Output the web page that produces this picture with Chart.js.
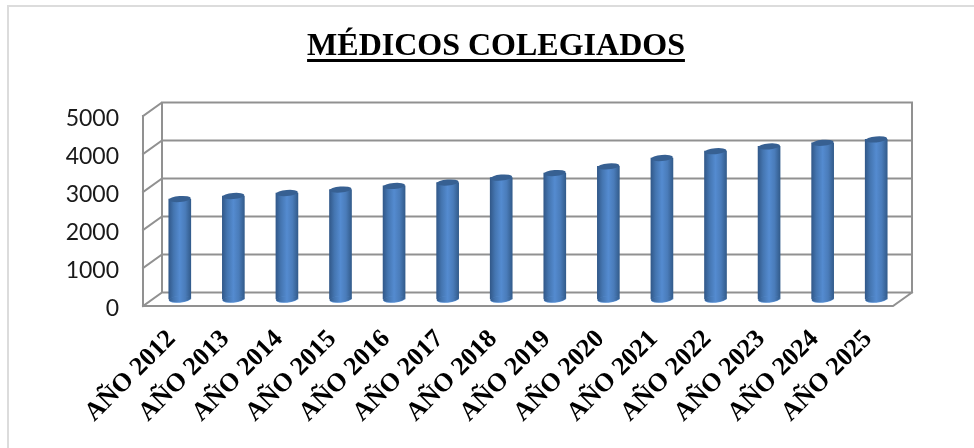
<!DOCTYPE html>
<html>
<head>
<meta charset="utf-8">
<title>Médicos colegiados</title>
<script src="https://cdn.jsdelivr.net/npm/chart.js@4"></script>
<style>
  html, body { margin: 0; padding: 0; background: #fff; }
  #wrap { position: relative; width: 974px; height: 448px; overflow: hidden; }
  #frame { position: absolute; left: 7px; top: 5px; width: 980px; height: 460px; border: 2px solid #dcdcdc; box-sizing: border-box; }
  canvas { position: absolute; left: 0; top: 0; }
</style>
</head>
<body>
<div id="wrap">
  <div id="frame"></div>
  <canvas id="chart" width="974" height="448"></canvas>
</div>
<script>
const categories = ["AÑO 2012", "AÑO 2013", "AÑO 2014", "AÑO 2015", "AÑO 2016", "AÑO 2017", "AÑO 2018",
  "AÑO 2019", "AÑO 2020", "AÑO 2021", "AÑO 2022", "AÑO 2023", "AÑO 2024", "AÑO 2025"];
const colegiados = [2630, 2710, 2790, 2880, 2975, 3065, 3195, 3315, 3490, 3710, 3890, 4015, 4110, 4200];
const chartTitle = "MÉDICOS COLEGIADOS";

// fake 3D depth of the box, and how far the bars sit inside it
const depthX = 19, depthY = 13.5;
const barShiftX = 10, barShiftY = 7;
const gridColor = "#919191";

function barGradient(ctx, x, w) {
  const g = ctx.createLinearGradient(x - w / 2, 0, x + w / 2, 0);
  g.addColorStop(0, "#32598a");
  g.addColorStop(0.22, "#4475b0");
  g.addColorStop(0.5, "#548bd0");
  g.addColorStop(0.75, "#4a7cba");
  g.addColorStop(1, "#335c8c");
  return g;
}

const box3d = {
  id: "box3d",
  beforeDatasetsDraw(chart) {
    const { ctx, chartArea: a, scales: { y } } = chart;
    ctx.save();
    ctx.strokeStyle = gridColor;
    ctx.lineWidth = 2;
    ctx.lineCap = "square";
    ctx.beginPath();
    y.ticks.forEach(t => {
      const p = y.getPixelForValue(t.value);
      ctx.moveTo(a.left, p);
      ctx.lineTo(a.left + depthX, p - depthY);
      ctx.lineTo(a.right + depthX, p - depthY);
    });
    ctx.moveTo(a.left, a.top);
    ctx.lineTo(a.left, a.bottom);
    ctx.lineTo(a.right, a.bottom);
    ctx.lineTo(a.right + depthX, a.bottom - depthY);
    ctx.moveTo(a.left + depthX, a.top - depthY);
    ctx.lineTo(a.left + depthX, a.bottom - depthY);
    ctx.moveTo(a.right + depthX, a.top - depthY);
    ctx.lineTo(a.right + depthX, a.bottom - depthY);
    ctx.stroke();
    ctx.restore();
    // bars stand in the middle of the floor
    ctx.save();
    ctx.translate(barShiftX, -barShiftY);
  },
  afterDatasetsDraw(chart) {
    const { ctx, scales: { y } } = chart;
    const tilt = -5 * Math.PI / 180;
    chart.getDatasetMeta(0).data.forEach(bar => {
      const rx = bar.width / 2;
      ctx.fillStyle = "#5b93d6";
      ctx.beginPath();
      ctx.ellipse(bar.x, y.getPixelForValue(0) + 0.4, rx, 3.3, tilt, 0, Math.PI * 2);
      ctx.fill();
      ctx.fillStyle = barGradient(ctx, bar.x, bar.width);
      ctx.beginPath();
      ctx.ellipse(bar.x, y.getPixelForValue(0), rx, 3, tilt, 0, Math.PI * 2);
      ctx.fill();
      ctx.fillStyle = "#376092";
      ctx.beginPath();
      ctx.ellipse(bar.x, bar.y, rx, 3, tilt, 0, Math.PI * 2);
      ctx.fill();
    });
    ctx.restore();
  },
  afterDraw(chart) {
    // underline for the title, the title plugin has no option for it
    const { ctx } = chart;
    const t = chart.titleBlock;
    ctx.save();
    ctx.font = "bold 32px 'Liberation Serif'";
    const w = ctx.measureText(chartTitle).width;
    const cx = (t.left + t.right) / 2;
    ctx.fillStyle = "#000";
    ctx.fillRect(cx - w / 2, 59, w, 3);
    ctx.restore();
  }
};

new Chart(document.getElementById("chart"), {
  type: "bar",
  data: {
    labels: categories,
    datasets: [{
      label: "Médicos colegiados",
      data: colegiados,
      barThickness: 22,
      clip: false,
      backgroundColor: c => {
        // called once without a dataIndex for the dataset itself
        const x = c.chart.scales.x.getPixelForValue(c.dataIndex);
        return Number.isFinite(x) ? barGradient(c.chart.ctx, x, 22) : "#4a7ebb";
      }
    }]
  },
  plugins: [box3d],
  options: {
    responsive: false,
    animation: false,
    layout: { padding: { left: 18, right: 0, top: 0, bottom: 0 } },
    plugins: {
      legend: { display: false },
      tooltip: { enabled: false },
      title: {
        display: true,
        text: chartTitle,
        color: "#000",
        font: { family: "'Liberation Serif'", size: 32, weight: "bold", lineHeight: 1.2 },
        padding: { top: 28, bottom: 49.6 }
      }
    },
    scales: {
      x: {
        afterFit: s => { s.height = 142; },
        grid: { display: false, drawTicks: false },
        border: { display: false },
        ticks: {
          autoSkip: false,
          minRotation: 45,
          maxRotation: 45,
          padding: 18,
          labelOffset: 2,
          color: "#000",
          font: { family: "'Liberation Serif'", size: 26, weight: "bold" }
        }
      },
      y: {
        min: 0,
        max: 5000,
        afterFit: s => { s.width = 125; },
        grid: { display: false, drawTicks: false },
        border: { display: false },
        ticks: {
          stepSize: 1000,
          padding: 24,
          labelOffset: 2.5,
          color: "#1a1a1a",
          font: { family: "Lato", size: 23 },
          callback: v => String(v)
        }
      },
      // empty axis, only holds the space right of the box
      spacer: {
        position: "right",
        afterFit: s => { s.width = 81; },
        grid: { display: false, drawTicks: false },
        border: { display: false },
        ticks: { display: false }
      }
    }
  }
});
</script>
</body>
</html>
